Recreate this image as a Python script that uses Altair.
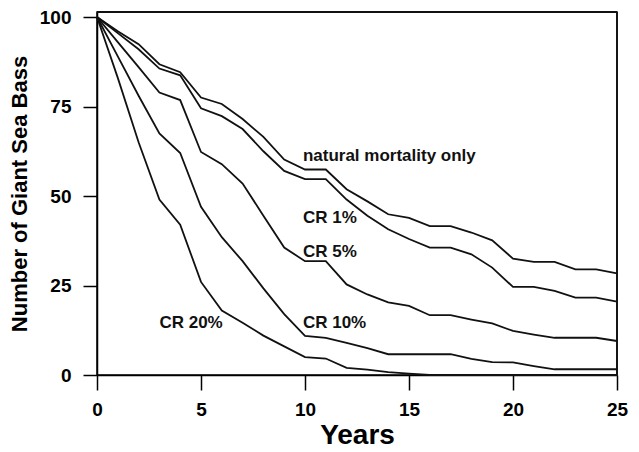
import altair as alt
import pandas as pd

years = list(range(26))

natural = [100, 96, 92.4, 86.8, 84.6, 77.5, 75.7, 71.5, 66.5, 60.2, 57.4, 57.4, 51.9, 48.5, 44.9, 43.9,
           41.6, 41.6, 39.8, 37.6, 32.5, 31.6, 31.6, 29.5, 29.5, 28.4]
cr1 = [100, 95.5, 91, 85.6, 83.7, 74.5, 72.3, 68.7, 62.5, 57, 54.7, 54.7, 49, 44.5, 40.7, 38,
       35.6, 35.6, 33.7, 30, 24.6, 24.6, 23.5, 21.6, 21.6, 20.5]
cr5 = [100, 93, 86, 78.9, 76.8, 62.3, 58.9, 53.5, 44.5, 35.6, 31.8, 31.8, 25.3, 22.5, 20.3, 19.3,
       16.7, 16.7, 15.5, 14.4, 12.3, 11.3, 10.4, 10.4, 10.4, 9.5]
cr10 = [100, 89, 78, 67.5, 62, 47, 38.5, 31.8, 24.2, 17, 10.9, 10.4, 9, 7.5, 5.8, 5.8,
        5.8, 5.8, 4.5, 3.6, 3.5, 2.5, 1.6, 1.6, 1.6, 1.6]
cr20 = [100, 83, 65, 49, 42, 26, 18, 14.6, 11, 8, 5, 4.6, 2, 1.5, 0.8, 0.4,
        0, 0, 0, 0, 0, 0, 0, 0, 0, 0]

series_names = ["natural mortality only", "CR 1%", "CR 5%", "CR 10%", "CR 20%"]
series_values = [natural, cr1, cr5, cr10, cr20]

label_text = ["natural mortality only", "CR 1%", "CR 5%", "CR 10%", "CR 20%"]
label_x = [9.9, 9.9, 9.9, 9.9, 3.0]
label_y = [61.2, 43.9, 34.4, 14.6, 14.6]

x_max = 25
y_max = 101.4

rows = []
for name, vals in zip(series_names, series_values):
    for yr, v in zip(years, vals):
        rows.append({"series": name, "year": yr, "value": v})
# top and right edges of the plot frame, traced through the same scales
rows += [
    {"series": "_frame_top", "year": 0, "value": y_max},
    {"series": "_frame_top", "year": x_max, "value": y_max},
    {"series": "_frame_right", "year": x_max, "value": 0},
    {"series": "_frame_right", "year": x_max, "value": y_max},
]
df = pd.DataFrame(rows)
labels = pd.DataFrame({"text": label_text, "x": label_x, "y": label_y})

FONT = "Liberation Sans"

xscale = alt.Scale(domain=[0, x_max], nice=False, zero=False)
yscale = alt.Scale(domain=[0, y_max], nice=False)

lines = alt.Chart(df).mark_line(color="#111111", strokeWidth=1.8).encode(
    x=alt.X("year:Q", scale=xscale,
            axis=alt.Axis(title="Years", values=[0, 5, 10, 15, 20, 25], format="d",
                          titleFontSize=28, titleFont=FONT, titleFontWeight="bold",
                          titleColor="black", titlePadding=2,
                          labelFontSize=19, labelFont=FONT, labelFontWeight="bold",
                          labelColor="black", labelPadding=10, labelFlush=False,
                          tickSize=15, tickWidth=1.5, tickColor="black",
                          domainColor="black", domainWidth=1.5, grid=False)),
    y=alt.Y("value:Q", scale=yscale,
            axis=alt.Axis(title="Number of Giant Sea Bass", values=[0, 25, 50, 75, 100],
                          titleFontSize=22, titleFont=FONT, titleFontWeight="bold",
                          titleColor="black", titlePadding=8,
                          labelFontSize=19, labelFont=FONT, labelFontWeight="bold",
                          labelColor="black", labelPadding=12, labelFlush=False,
                          tickSize=14, tickWidth=1.5, tickColor="black",
                          domainColor="black", domainWidth=1.5, grid=False)),
    detail="series:N",
)

text = alt.Chart(labels).mark_text(
    align="left", baseline="middle", font=FONT, fontWeight="bold", fontSize=17, color="#111111"
).encode(
    x=alt.X("x:Q", scale=xscale),
    y=alt.Y("y:Q", scale=yscale),
    text="text:N",
)

chart = alt.layer(lines, text).properties(
    width=520, height=363,
    autosize=alt.AutoSizeParams(type="none"),
    padding={"left": 89, "top": 4, "right": 14, "bottom": 77},
).configure(background="white", view=alt.ViewConfig(stroke="black", strokeWidth=1.5))

chart.save("out.html", embed_options={"renderer": "svg", "actions": False})
